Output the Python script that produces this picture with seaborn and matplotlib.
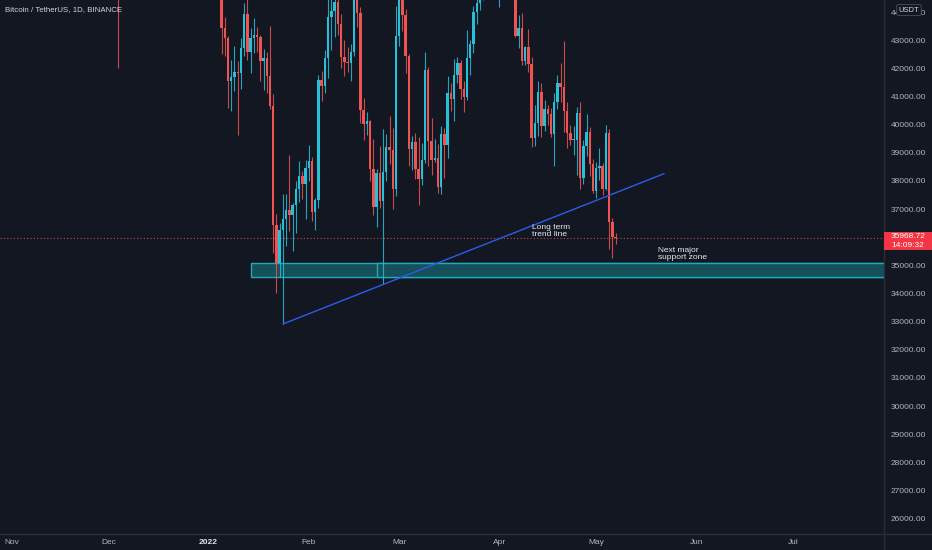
import matplotlib
matplotlib.use("Agg")
import numpy as np
import pandas as pd
import seaborn as sns
import matplotlib.pyplot as plt
import matplotlib.dates as mdates
from matplotlib.patches import Rectangle
from matplotlib.lines import Line2D

# ---------------- data (BTC/USDT daily candles) ----------------
dec_dates = ["2021-12-04"]
main_start, main_end = "2022-01-01", "2022-05-07"

opens = [53580,
    46216,47722,47286,46446,45832,43451,43082,41566,41679,41864,41822,42735,43920,42591,43099,43177,
    43113,42250,42375,41744,40680,36445,35071,36244,36660,36958,36809,37160,37716,38166,37881,
    38466,38694,36896,37311,41575,41383,42380,43839,44043,44379,43565,42407,42244,42197,42586,44575,
    43961,40538,40031,40123,38431,37075,38286,37296,38332,39214,39106,37699,
    43160,44421,43892,42455,39148,39397,38421,38062,38737,41941,39422,38730,38807,37777,39671,39280,
    41114,40917,41757,42201,41262,41002,42364,42882,43991,44313,44511,46827,47122,47434,47067,
    45510,46283,45811,46407,46580,45498,43170,43444,42252,42753,42158,39530,40074,41147,39942,40552,
    40378,39678,40801,41493,41358,40480,39709,39441,39450,40426,38112,39235,39742,38596,
    37630,38468,38525,37728,39690,36552,36013]
highs = [53859,
    47954,47990,47570,47557,47070,43816,43145,42300,42786,42248,43100,44322,44500,43447,43800,43478,
    43180,42690,42574,43505,41100,36835,36499,37550,37545,38919,37234,38000,38720,38359,38744,
    39265,38856,37387,41772,41913,42656,44500,45492,44799,45821,43920,43000,42760,42876,44751,44582,
    44200,40959,40444,40168,39494,38429,39249,39843,39683,40300,39886,44225,
    44949,45400,44101,42527,39613,39693,39547,39362,42594,42039,40236,39486,39310,39947,39887,41718,
    41478,42325,42400,42296,41544,43361,43025,44220,45094,44792,46999,48189,48096,47700,47600,
    46720,47213,47444,46890,47200,45507,43900,43970,42800,43410,42414,40699,41561,41500,40870,40709,
    40595,41116,41760,42199,42976,40795,39980,39940,40616,40797,39474,40372,39925,38795,
    38675,39167,38651,39980,39845,36675,36146]
lows = [42000,
    46208,46654,45696,45500,42500,42430,40610,40501,41200,39650,41268,42450,42311,41850,42555,42581,
    41540,41250,41138,40553,35440,34008,34601,32917,35701,36234,35507,36155,37268,37351,36632,
    38000,36586,36250,37026,40843,41116,41645,42667,43117,43174,42000,41748,41870,41570,42428,43456,
    40073,39450,39639,38000,36800,36350,37036,34322,38014,38600,37000,37450,
    42809,43334,41832,38550,38407,38088,37155,37867,38656,38539,38223,38660,37578,37555,38098,38828,
    40500,40135,41499,40911,40467,40875,41751,42560,43579,44071,44422,46663,46950,46445,45200,
    44200,45620,45530,45118,45353,43121,42727,42107,42125,41868,39200,39254,39588,39551,39766,39991,
    39546,38536,40571,40820,39751,39177,39285,38929,38200,37702,37881,38881,38175,37578,
    37386,38052,37517,37671,35571,35258,35764]
closes = [49397,
    47722,47286,46446,45832,43451,43082,41566,41679,41864,41822,42735,43920,42591,43099,43177,43113,
    42250,42375,41744,40680,36445,35071,36244,36660,36958,36809,37160,37716,38166,37881,38466,
    38694,36896,37311,41575,41383,42380,43839,44043,44379,43565,42407,42244,42197,42586,44575,43961,
    40538,40031,40123,38431,37075,38286,37296,38332,39214,39106,37699,43160,
    44421,43892,42455,39148,39397,38421,38062,38737,41941,39422,38730,38807,37777,39671,39280,41114,
    40917,41757,42201,41262,41002,42364,42882,43991,44313,44511,46827,47122,47434,47067,45510,
    46283,45811,46407,46580,45498,43170,43444,42252,42753,42158,39530,40074,41147,39942,40552,40378,
    39678,40801,41493,41358,40480,39709,39441,39450,40426,38112,39235,39742,38596,37630,
    38468,38525,37728,39690,36552,36013,35968.72]

trend_dates = ["2022-01-24", "2022-05-22"]
trend_prices = [32917, 38260]

zone_low, zone_high = 34600, 35070
zone_starts = ["2022-01-14", "2022-02-22"]
zone_end = "2022-08-20"

last_price = 35968.72
price_label = ["35968.72", "14:09:32"]

notes = ["Long term\ntrend line", "Next major\nsupport zone"]
note_dates = ["2022-04-11", "2022-05-20"]
note_prices = [36480, 35660]

month_ticks = ["2021-11-01", "2021-12-01", "2022-01-01", "2022-02-01", "2022-03-01",
               "2022-04-01", "2022-05-01", "2022-06-01", "2022-07-01"]
month_labels = ["Nov", "Dec", "2022", "Feb", "Mar", "Apr", "May", "Jun", "Jul"]
price_ticks = list(range(26000, 44001, 1000))

title = "Bitcoin / TetherUS, 1D, BINANCE"

# ---------------- style ----------------
BG = "#131722"
UP = "#26c0d8"
DOWN = "#ee5552"
TXT = "#b2b5be"
SEP = "#2a2e39"

sns.set_theme(style="dark", rc={"axes.facecolor": BG, "figure.facecolor": BG,
                                "axes.grid": False})
plt.rcParams["font.family"] = ["Liberation Sans", "DejaVu Sans"]

dates = pd.to_datetime(dec_dates + [d.strftime("%Y-%m-%d") for d in pd.date_range(main_start, main_end)])
df = pd.DataFrame({"date": dates, "open": opens, "high": highs, "low": lows, "close": closes})
df["x"] = mdates.date2num(df["date"])
df["up"] = df["close"] >= df["open"]
df["color"] = np.where(df["up"], UP, DOWN)

W, H = 932, 550
fig = plt.figure(figsize=(W / 100, H / 100), dpi=100)
ax = fig.add_axes([0, 16 / H, 884 / W, 534 / H])
ax.set_facecolor(BG)

x0 = mdates.date2num(pd.Timestamp("2022-01-01"))
ax.set_xlim(x0 - 64.6, x0 + 209.1)
ax.set_ylim(25453, 44433)

# support zone rectangles
zend = mdates.date2num(pd.Timestamp(zone_end))
for zs in zone_starts:
    xs = mdates.date2num(pd.Timestamp(zs))
    ax.add_patch(Rectangle((xs, zone_low), zend - xs, zone_high - zone_low,
                           facecolor="#15505b", edgecolor="#22a9ba", lw=1.0, zorder=1))

# price line
ax.axhline(last_price, color=DOWN, lw=0.8, ls=(0, (1, 2)), alpha=0.8, zorder=1.5)

# candles
ax.vlines(df["x"], df["low"], df["high"], colors=df["color"], lw=0.8, alpha=0.85, zorder=3)
body_h = (df["close"] - df["open"]).abs().clip(lower=40)
body_b = df[["open", "close"]].min(axis=1)
ax.bar(df["x"], body_h, bottom=body_b, width=0.75, color=df["color"], linewidth=0, zorder=3)

# trend line
tl = pd.DataFrame({"x": mdates.date2num(pd.to_datetime(trend_dates)), "y": trend_prices})
sns.lineplot(data=tl, x="x", y="y", ax=ax, color="#2f5bea", lw=1.0, zorder=4)

# notes
for t, d, p in zip(notes, note_dates, note_prices):
    ax.text(mdates.date2num(pd.Timestamp(d)), p, t, color="#e8e9ed", fontsize=6,
            va="top", ha="left", linespacing=1.0, zorder=5)

# axes styling
ax.set_xlabel("")
ax.set_ylabel("")
for s in ax.spines.values():
    s.set_visible(False)
ax.set_xticks(mdates.date2num(pd.to_datetime(month_ticks)))
ax.set_xticklabels(month_labels)
ax.tick_params(axis="x", length=0, pad=3.5, labelsize=6, labelcolor=TXT)
for lbl in ax.get_xticklabels():
    if lbl.get_text() == "2022":
        lbl.set_color("#e0e3eb")
        lbl.set_fontweight("bold")
ax.yaxis.tick_right()
ax.set_yticks(price_ticks)
ax.set_yticklabels([f"{v:.2f}" for v in price_ticks])
ax.tick_params(axis="y", length=0, pad=5, labelsize=6, labelcolor=TXT)

# separators
fig.add_artist(Line2D([884 / W, 884 / W], [0, 1], color=SEP, lw=1))
fig.add_artist(Line2D([0, 1], [16 / H, 16 / H], color=SEP, lw=1))

# price label box
fig.add_artist(Rectangle((884 / W, 1 - 250 / H), 48 / W, 18 / H, transform=fig.transFigure,
                         facecolor="#f23645", edgecolor="none", zorder=6))
fig.text(908 / W, 1 - 236.5 / H, price_label[0], color="#ffffff", fontsize=6, ha="center", va="center", zorder=7)
fig.text(908 / W, 1 - 245.5 / H, price_label[1], color="#ffffff", fontsize=6, ha="center", va="center", zorder=7)

# currency badge (covers the top price label as in the original)
fig.text(909 / W, 1 - 10 / H, "USDT", color="#d1d4dc", fontsize=5.5, ha="center", va="center", zorder=8,
         bbox=dict(boxstyle="round,pad=0.25,rounding_size=0.2", facecolor=BG, edgecolor="#4a4e5a", lw=0.6))

# title
fig.text(5 / W, 1 - 10 / H, title, color="#d1d4dc", fontsize=5.7, ha="left", va="center")

fig.savefig("out.png", dpi=100, facecolor=BG)
